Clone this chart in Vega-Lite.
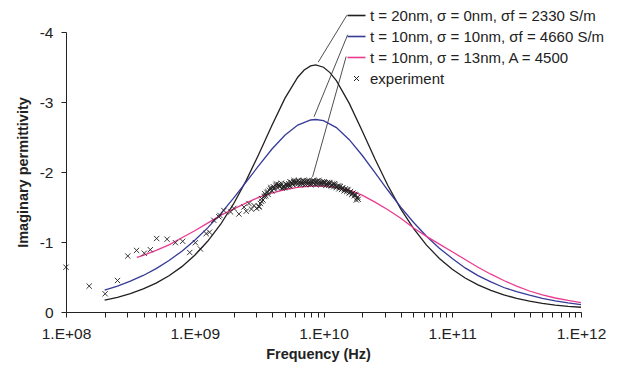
{
  "$schema": "https://vega.github.io/schema/vega-lite/v6.json",
  "width": 515,
  "height": 280,
  "autosize": {"type": "none"},
  "padding": {"left": 66, "top": 32, "right": 40, "bottom": 62},
  "background": "white",
  "config": {
    "view": {"stroke": null},
    "font": "Liberation Sans",
    "axis": {
      "grid": false,
      "domainColor": "#222222",
      "tickColor": "#222222",
      "domainWidth": 1,
      "tickWidth": 1,
      "labelFont": "Liberation Sans",
      "labelFontSize": 15.5,
      "labelColor": "#222222",
      "titleFont": "Liberation Sans",
      "titleFontSize": 14.5,
      "titleFontWeight": "bold",
      "titleColor": "#222222"
    }
  },
  "datasets": {
    "curves": [
      {"series": "a", "f": 1.995e8, "v": -0.17},
      {"series": "a", "f": 2.512e8, "v": -0.21},
      {"series": "a", "f": 3.162e8, "v": -0.262},
      {"series": "a", "f": 3.981e8, "v": -0.33},
      {"series": "a", "f": 5.012e8, "v": -0.412},
      {"series": "a", "f": 6.31e8, "v": -0.517},
      {"series": "a", "f": 7.943e8, "v": -0.648},
      {"series": "a", "f": 1e9, "v": -0.81},
      {"series": "a", "f": 1.259e9, "v": -1.01},
      {"series": "a", "f": 1.585e9, "v": -1.25},
      {"series": "a", "f": 1.995e9, "v": -1.54},
      {"series": "a", "f": 2.512e9, "v": -1.88},
      {"series": "a", "f": 3.162e9, "v": -2.265},
      {"series": "a", "f": 3.981e9, "v": -2.669},
      {"series": "a", "f": 5.012e9, "v": -3.052},
      {"series": "a", "f": 6.31e9, "v": -3.354},
      {"series": "a", "f": 7.079e9, "v": -3.456},
      {"series": "a", "f": 7.943e9, "v": -3.516},
      {"series": "a", "f": 8.71e9, "v": -3.53},
      {"series": "a", "f": 1e10, "v": -3.497},
      {"series": "a", "f": 1.122e10, "v": -3.42},
      {"series": "a", "f": 1.259e10, "v": -3.304},
      {"series": "a", "f": 1.585e10, "v": -2.98},
      {"series": "a", "f": 1.995e10, "v": -2.589},
      {"series": "a", "f": 2.512e10, "v": -2.185},
      {"series": "a", "f": 3.162e10, "v": -1.807},
      {"series": "a", "f": 3.981e10, "v": -1.474},
      {"series": "a", "f": 5.012e10, "v": -1.191},
      {"series": "a", "f": 6.31e10, "v": -0.956},
      {"series": "a", "f": 7.943e10, "v": -0.765},
      {"series": "a", "f": 1e11, "v": -0.61},
      {"series": "a", "f": 1.259e11, "v": -0.486},
      {"series": "a", "f": 1.585e11, "v": -0.387},
      {"series": "a", "f": 1.995e11, "v": -0.308},
      {"series": "a", "f": 2.512e11, "v": -0.245},
      {"series": "a", "f": 3.162e11, "v": -0.194},
      {"series": "a", "f": 3.981e11, "v": -0.154},
      {"series": "a", "f": 5.012e11, "v": -0.123},
      {"series": "a", "f": 6.31e11, "v": -0.097},
      {"series": "a", "f": 7.943e11, "v": -0.08},
      {"series": "a", "f": 1e12, "v": -0.068},
      {"series": "b", "f": 1.995e8, "v": -0.311},
      {"series": "b", "f": 2.512e8, "v": -0.37},
      {"series": "b", "f": 3.162e8, "v": -0.44},
      {"series": "b", "f": 3.981e8, "v": -0.522},
      {"series": "b", "f": 5.012e8, "v": -0.62},
      {"series": "b", "f": 6.31e8, "v": -0.735},
      {"series": "b", "f": 7.943e8, "v": -0.869},
      {"series": "b", "f": 1e9, "v": -1.024},
      {"series": "b", "f": 1.259e9, "v": -1.202},
      {"series": "b", "f": 1.585e9, "v": -1.402},
      {"series": "b", "f": 1.995e9, "v": -1.623},
      {"series": "b", "f": 2.512e9, "v": -1.859},
      {"series": "b", "f": 3.162e9, "v": -2.098},
      {"series": "b", "f": 3.981e9, "v": -2.328},
      {"series": "b", "f": 5.012e9, "v": -2.525},
      {"series": "b", "f": 6.31e9, "v": -2.67},
      {"series": "b", "f": 7.943e9, "v": -2.743},
      {"series": "b", "f": 8.71e9, "v": -2.75},
      {"series": "b", "f": 1e10, "v": -2.734},
      {"series": "b", "f": 1.259e10, "v": -2.634},
      {"series": "b", "f": 1.585e10, "v": -2.462},
      {"series": "b", "f": 1.995e10, "v": -2.239},
      {"series": "b", "f": 2.512e10, "v": -1.991},
      {"series": "b", "f": 3.162e10, "v": -1.739},
      {"series": "b", "f": 3.981e10, "v": -1.499},
      {"series": "b", "f": 5.012e10, "v": -1.278},
      {"series": "b", "f": 6.31e10, "v": -1.083},
      {"series": "b", "f": 7.943e10, "v": -0.912},
      {"series": "b", "f": 1e11, "v": -0.765},
      {"series": "b", "f": 1.259e11, "v": -0.63},
      {"series": "b", "f": 1.585e11, "v": -0.52},
      {"series": "b", "f": 1.995e11, "v": -0.43},
      {"series": "b", "f": 2.512e11, "v": -0.35},
      {"series": "b", "f": 3.162e11, "v": -0.29},
      {"series": "b", "f": 3.981e11, "v": -0.24},
      {"series": "b", "f": 5.012e11, "v": -0.195},
      {"series": "b", "f": 6.31e11, "v": -0.16},
      {"series": "b", "f": 7.943e11, "v": -0.13},
      {"series": "b", "f": 1e12, "v": -0.105},
      {"series": "c", "f": 3.548e8, "v": -0.78},
      {"series": "c", "f": 3.981e8, "v": -0.81},
      {"series": "c", "f": 5.012e8, "v": -0.88},
      {"series": "c", "f": 6.31e8, "v": -0.96},
      {"series": "c", "f": 7.943e8, "v": -1.06},
      {"series": "c", "f": 1e9, "v": -1.16},
      {"series": "c", "f": 1.259e9, "v": -1.27},
      {"series": "c", "f": 1.585e9, "v": -1.38},
      {"series": "c", "f": 1.995e9, "v": -1.47},
      {"series": "c", "f": 2.512e9, "v": -1.56},
      {"series": "c", "f": 3.162e9, "v": -1.64},
      {"series": "c", "f": 3.981e9, "v": -1.7},
      {"series": "c", "f": 5.012e9, "v": -1.75},
      {"series": "c", "f": 6.31e9, "v": -1.78},
      {"series": "c", "f": 7.943e9, "v": -1.8},
      {"series": "c", "f": 1e10, "v": -1.8},
      {"series": "c", "f": 1.259e10, "v": -1.78},
      {"series": "c", "f": 1.585e10, "v": -1.74},
      {"series": "c", "f": 1.995e10, "v": -1.67},
      {"series": "c", "f": 2.512e10, "v": -1.57},
      {"series": "c", "f": 3.162e10, "v": -1.46},
      {"series": "c", "f": 3.981e10, "v": -1.34},
      {"series": "c", "f": 5.012e10, "v": -1.2},
      {"series": "c", "f": 6.31e10, "v": -1.08},
      {"series": "c", "f": 7.943e10, "v": -0.97},
      {"series": "c", "f": 1e11, "v": -0.86},
      {"series": "c", "f": 1.259e11, "v": -0.75},
      {"series": "c", "f": 1.585e11, "v": -0.64},
      {"series": "c", "f": 1.995e11, "v": -0.54},
      {"series": "c", "f": 2.512e11, "v": -0.45},
      {"series": "c", "f": 3.162e11, "v": -0.37},
      {"series": "c", "f": 3.981e11, "v": -0.3},
      {"series": "c", "f": 5.012e11, "v": -0.245},
      {"series": "c", "f": 6.31e11, "v": -0.2},
      {"series": "c", "f": 7.943e11, "v": -0.165},
      {"series": "c", "f": 1e12, "v": -0.135}
    ],
    "exp": [
      {"f": 1e8, "v": -0.64},
      {"f": 1.514e8, "v": -0.37},
      {"f": 2.014e8, "v": -0.26},
      {"f": 2.512e8, "v": -0.45},
      {"f": 3.02e8, "v": -0.8},
      {"f": 3.532e8, "v": -0.88},
      {"f": 4.055e8, "v": -0.84},
      {"f": 4.519e8, "v": -0.89},
      {"f": 5.058e8, "v": -1.05},
      {"f": 6.095e8, "v": -1.04},
      {"f": 7.079e8, "v": -0.99},
      {"f": 8.054e8, "v": -1.01},
      {"f": 9.141e8, "v": -0.85},
      {"f": 1.012e9, "v": -0.99},
      {"f": 1.107e9, "v": -0.9},
      {"f": 1.227e9, "v": -1.12},
      {"f": 1.303e9, "v": -1.14},
      {"f": 1.406e9, "v": -1.31},
      {"f": 1.538e9, "v": -1.36},
      {"f": 1.567e9, "v": -1.38},
      {"f": 1.683e9, "v": -1.45},
      {"f": 1.897e9, "v": -1.43},
      {"f": 2.014e9, "v": -1.48},
      {"f": 2.203e9, "v": -1.4},
      {"f": 2.41e9, "v": -1.5},
      {"f": 2.512e9, "v": -1.44},
      {"f": 2.636e9, "v": -1.55},
      {"f": 2.754e9, "v": -1.47},
      {"f": 2.884e9, "v": -1.52},
      {"f": 3.027e9, "v": -1.48},
      {"f": 3.155e9, "v": -1.51},
      {"f": 3.162e9, "v": -1.5},
      {"f": 3.236e9, "v": -1.55},
      {"f": 3.311e9, "v": -1.58},
      {"f": 3.388e9, "v": -1.6},
      {"f": 3.467e9, "v": -1.65},
      {"f": 3.548e9, "v": -1.66},
      {"f": 3.631e9, "v": -1.71},
      {"f": 3.715e9, "v": -1.68},
      {"f": 3.802e9, "v": -1.74},
      {"f": 3.89e9, "v": -1.76},
      {"f": 3.981e9, "v": -1.73},
      {"f": 4.074e9, "v": -1.79},
      {"f": 4.169e9, "v": -1.77},
      {"f": 4.266e9, "v": -1.81},
      {"f": 4.365e9, "v": -1.78},
      {"f": 4.467e9, "v": -1.82},
      {"f": 4.571e9, "v": -1.79},
      {"f": 4.677e9, "v": -1.81},
      {"f": 4.786e9, "v": -1.77},
      {"f": 4.898e9, "v": -1.8},
      {"f": 5.012e9, "v": -1.78},
      {"f": 5.129e9, "v": -1.82},
      {"f": 5.248e9, "v": -1.79},
      {"f": 5.37e9, "v": -1.83},
      {"f": 5.495e9, "v": -1.8},
      {"f": 5.623e9, "v": -1.85},
      {"f": 5.754e9, "v": -1.82},
      {"f": 5.888e9, "v": -1.86},
      {"f": 6.026e9, "v": -1.83},
      {"f": 6.166e9, "v": -1.87},
      {"f": 6.31e9, "v": -1.83},
      {"f": 6.457e9, "v": -1.86},
      {"f": 6.607e9, "v": -1.82},
      {"f": 6.761e9, "v": -1.87},
      {"f": 6.918e9, "v": -1.83},
      {"f": 7.079e9, "v": -1.86},
      {"f": 7.244e9, "v": -1.82},
      {"f": 7.413e9, "v": -1.87},
      {"f": 7.586e9, "v": -1.83},
      {"f": 7.762e9, "v": -1.86},
      {"f": 7.943e9, "v": -1.82},
      {"f": 8.128e9, "v": -1.87},
      {"f": 8.318e9, "v": -1.84},
      {"f": 8.511e9, "v": -1.86},
      {"f": 8.71e9, "v": -1.82},
      {"f": 8.913e9, "v": -1.87},
      {"f": 9.12e9, "v": -1.83},
      {"f": 9.333e9, "v": -1.86},
      {"f": 9.55e9, "v": -1.82},
      {"f": 9.772e9, "v": -1.86},
      {"f": 1e10, "v": -1.83},
      {"f": 1.023e10, "v": -1.85},
      {"f": 1.047e10, "v": -1.81},
      {"f": 1.072e10, "v": -1.85},
      {"f": 1.096e10, "v": -1.81},
      {"f": 1.122e10, "v": -1.84},
      {"f": 1.148e10, "v": -1.8},
      {"f": 1.175e10, "v": -1.83},
      {"f": 1.202e10, "v": -1.79},
      {"f": 1.23e10, "v": -1.82},
      {"f": 1.259e10, "v": -1.78},
      {"f": 1.288e10, "v": -1.8},
      {"f": 1.318e10, "v": -1.76},
      {"f": 1.349e10, "v": -1.79},
      {"f": 1.38e10, "v": -1.75},
      {"f": 1.413e10, "v": -1.77},
      {"f": 1.445e10, "v": -1.73},
      {"f": 1.479e10, "v": -1.76},
      {"f": 1.514e10, "v": -1.72},
      {"f": 1.549e10, "v": -1.74},
      {"f": 1.585e10, "v": -1.7},
      {"f": 1.622e10, "v": -1.72},
      {"f": 1.66e10, "v": -1.68},
      {"f": 1.698e10, "v": -1.7},
      {"f": 1.738e10, "v": -1.66},
      {"f": 1.778e10, "v": -1.67},
      {"f": 1.82e10, "v": -1.63},
      {"f": 1.862e10, "v": -1.61},
      {"f": 3.3e9, "v": -1.62},
      {"f": 3.5e9, "v": -1.69},
      {"f": 3.7e9, "v": -1.72},
      {"f": 3.9e9, "v": -1.78},
      {"f": 4.1e9, "v": -1.76},
      {"f": 4.3e9, "v": -1.83},
      {"f": 4.5e9, "v": -1.8},
      {"f": 4.7e9, "v": -1.84},
      {"f": 4.9e9, "v": -1.78},
      {"f": 5.1e9, "v": -1.83},
      {"f": 5.3e9, "v": -1.81},
      {"f": 5.5e9, "v": -1.86},
      {"f": 5.7e9, "v": -1.84},
      {"f": 5.9e9, "v": -1.88},
      {"f": 6.1e9, "v": -1.85},
      {"f": 6.4e9, "v": -1.88},
      {"f": 6.7e9, "v": -1.84},
      {"f": 7.0e9, "v": -1.88},
      {"f": 7.3e9, "v": -1.85},
      {"f": 7.7e9, "v": -1.88},
      {"f": 8.0e9, "v": -1.84},
      {"f": 8.4e9, "v": -1.88},
      {"f": 8.8e9, "v": -1.85},
      {"f": 9.2e9, "v": -1.88},
      {"f": 9.6e9, "v": -1.84},
      {"f": 1.01e10, "v": -1.86},
      {"f": 1.06e10, "v": -1.83},
      {"f": 1.11e10, "v": -1.85},
      {"f": 1.16e10, "v": -1.81},
      {"f": 1.21e10, "v": -1.83},
      {"f": 1.27e10, "v": -1.79},
      {"f": 1.33e10, "v": -1.8},
      {"f": 1.4e10, "v": -1.77},
      {"f": 1.47e10, "v": -1.74},
      {"f": 1.53e10, "v": -1.75},
      {"f": 1.6e10, "v": -1.71},
      {"f": 1.67e10, "v": -1.69},
      {"f": 1.75e10, "v": -1.68},
      {"f": 1.84e10, "v": -1.64},
      {"f": 1.8e10, "v": -1.6}
    ],
    "leaders": [
      {"f": 1.52e10, "v": -4.24, "f2": 9.1e9, "v2": -3.57},
      {"f": 1.54e10, "v": -3.96, "f2": 8.45e9, "v2": -2.79},
      {"f": 1.5e10, "v": -3.65, "f2": 8.22e9, "v2": -1.93}
    ]
  },
  "layer": [
    {
      "data": {"name": "leaders"},
      "mark": {"type": "rule", "color": "#222222", "strokeWidth": 0.8},
      "encoding": {
        "x": {"field": "f", "type": "quantitative", "scale": {"type": "log", "domain": [1e8, 1e12], "nice": false}},
        "y": {"field": "v", "type": "quantitative", "scale": {"domain": [0, -4], "nice": false}},
        "x2": {"field": "f2"},
        "y2": {"field": "v2"}
      }
    },
    {
      "data": {"name": "curves"},
      "mark": {"type": "line", "strokeWidth": 1.3},
      "encoding": {
        "x": {
          "field": "f", "type": "quantitative",
          "scale": {"type": "log", "domain": [1e8, 1e12], "nice": false},
          "axis": {
            "title": "Frequency (Hz)",
            "values": [1e8, 2e8, 3e8, 4e8, 5e8, 6e8, 7e8, 8e8, 9e8, 1e9, 2e9, 3e9, 4e9, 5e9, 6e9, 7e9, 8e9, 9e9, 1e10, 2e10, 3e10, 4e10, 5e10, 6e10, 7e10, 8e10, 9e10, 1e11, 2e11, 3e11, 4e11, 5e11, 6e11, 7e11, 8e11, 9e11, 1e12],
            "labelExpr": "abs(log(datum.value)/LN10 - round(log(datum.value)/LN10)) < 0.001 ? '1.E+' + format(round(log(datum.value)/LN10), '02d') : ''",
            "labelOverlap": false,
            "labelFlush": false,
            "labelBound": false,
            "tickSize": 5,
            "labelPadding": 9,
            "titlePadding": 6,
            "titleX": 252
          }
        },
        "y": {
          "field": "v", "type": "quantitative",
          "scale": {"domain": [0, -4], "nice": false},
          "axis": {
            "title": "Imaginary permittivity",
            "values": [0, -1, -2, -3, -4],
            "labelExpr": "datum.value == 0 ? '0' : '-' + abs(datum.value)",
            "tickSize": 5,
            "labelPadding": 8,
            "titlePadding": 9
          }
        },
        "color": {
          "field": "series", "type": "nominal",
          "scale": {"domain": ["a", "b", "c", "experiment"], "range": ["#231f20", "#363a98", "#ec3b8f", "#231f20"]},
          "legend": {
            "orient": "none",
            "legendX": 283,
            "legendY": -24,
            "title": null,
            "labelFont": "Liberation Sans",
            "labelFontSize": 15,
            "labelColor": "#222222",
            "labelLimit": 0,
            "labelOffset": 6,
            "rowPadding": 5,
            "symbolType": "stroke",
            "symbolSize": 324,
            "symbolStrokeWidth": 1.6,
            "labelExpr": "datum.value === 'a' ? 't = 20nm, σ = 0nm, σf = 2330 S/m' : datum.value === 'b' ? 't = 10nm, σ = 10nm, σf = 4660 S/m' : datum.value === 'c' ? 't = 10nm, σ = 13nm, A = 4500' : 'experiment'",
            "encode": {
              "symbols": {
                "update": {
                  "shape": {"signal": "datum.value === 'experiment' ? 'M-1,-1L1,1M-1,1L1,-1' : 'stroke'"},
                  "size": {"signal": "datum.value === 'experiment' ? 25 : 324"},
                  "strokeWidth": {"signal": "datum.value === 'experiment' ? 1 : 1.6"},
                  "fill": {"value": "transparent"}
                }
              }
            }
          }
        }
      }
    },
    {
      "data": {"name": "exp"},
      "mark": {"type": "point", "shape": "M-1,-1L1,1M-1,1L1,-1", "filled": false, "size": 28, "strokeWidth": 0.9, "opacity": 1},
      "encoding": {
        "x": {"field": "f", "type": "quantitative"},
        "y": {"field": "v", "type": "quantitative"},
        "color": {"datum": "experiment", "type": "nominal"}
      }
    }
  ]
}
